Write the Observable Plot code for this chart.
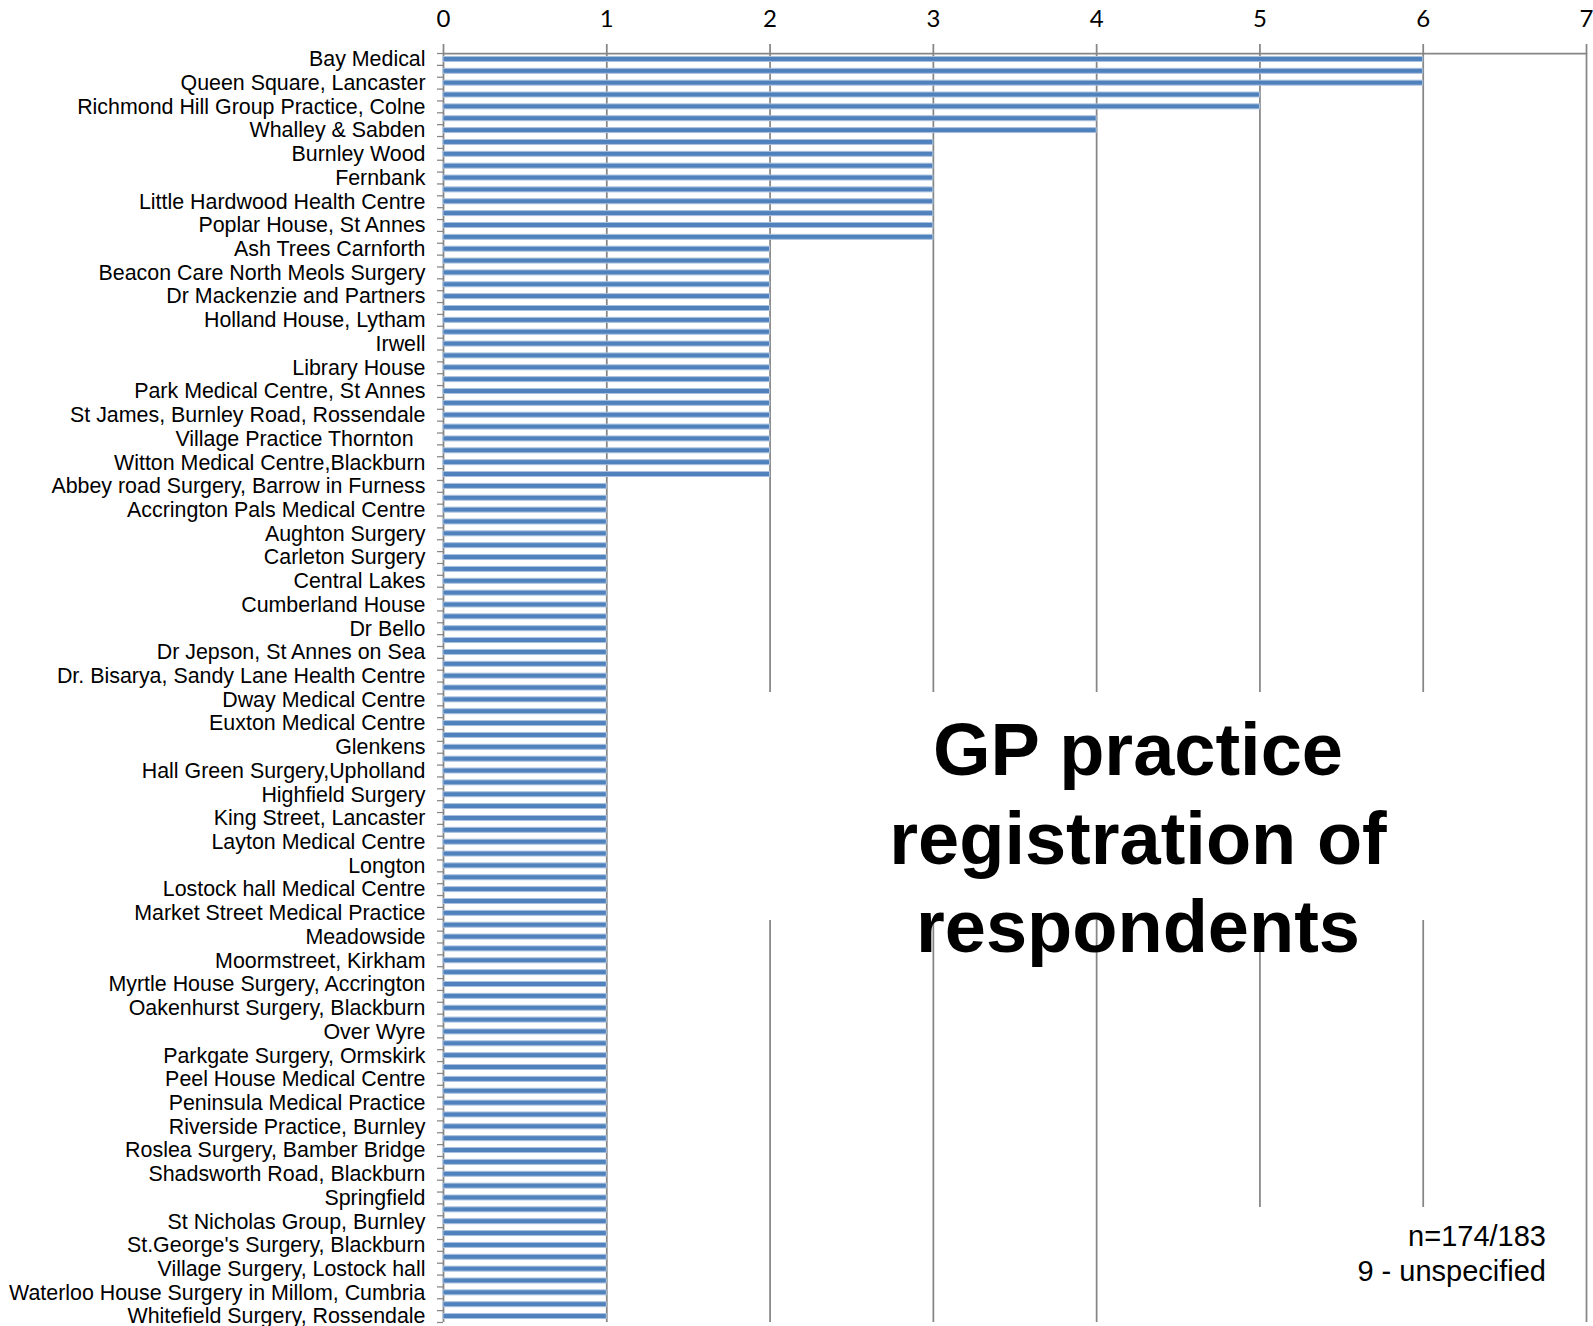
<!DOCTYPE html>
<html>
<head>
<meta charset="utf-8">
<script src="https://cdn.jsdelivr.net/npm/d3@7"></script>
<script src="https://cdn.jsdelivr.net/npm/@observablehq/plot@0.6"></script>
<style>
  html, body { margin: 0; padding: 0; background: #fff; }
  #wrap { position: relative; width: 1593px; height: 1326px; overflow: hidden; background: #fff; }
  #wrap svg { position: absolute; left: 0; top: 0; }
  .box { position: absolute; background: #fff; }
  .title { position: absolute; font-family: "Liberation Sans", Arial, sans-serif; font-weight: bold; font-size: 74px; line-height: 88.5px; text-align: center; color: #000; white-space: nowrap; }
  .note { position: absolute; font-family: "Liberation Sans", Arial, sans-serif; font-size: 29px; line-height: 35px; text-align: right; color: #000; white-space: nowrap; }
</style>
</head>
<body>
<div id="wrap"></div>
<script>
// Visible category labels (Excel shows every other category label)
const practices = [
  "Bay Medical",
  "Queen Square, Lancaster",
  "Richmond Hill Group Practice, Colne",
  "Whalley & Sabden",
  "Burnley Wood",
  "Fernbank",
  "Little Hardwood Health Centre",
  "Poplar House, St Annes",
  "Ash Trees Carnforth",
  "Beacon Care North Meols Surgery",
  "Dr Mackenzie and Partners",
  "Holland House, Lytham",
  "Irwell",
  "Library House",
  "Park Medical Centre, St Annes",
  "St James, Burnley Road, Rossendale",
  "Village Practice Thornton\u00a0\u00a0",
  "Witton Medical Centre,Blackburn",
  "Abbey road Surgery, Barrow in Furness",
  "Accrington Pals Medical Centre",
  "Aughton Surgery",
  "Carleton Surgery",
  "Central Lakes",
  "Cumberland House",
  "Dr Bello",
  "Dr Jepson, St Annes on Sea",
  "Dr. Bisarya, Sandy Lane Health Centre",
  "Dway Medical Centre",
  "Euxton Medical Centre",
  "Glenkens",
  "Hall Green Surgery,Upholland",
  "Highfield Surgery",
  "King Street, Lancaster",
  "Layton Medical Centre",
  "Longton",
  "Lostock hall Medical Centre",
  "Market Street Medical Practice",
  "Meadowside",
  "Moormstreet, Kirkham",
  "Myrtle House Surgery, Accrington",
  "Oakenhurst Surgery, Blackburn",
  "Over Wyre",
  "Parkgate Surgery, Ormskirk",
  "Peel House Medical Centre",
  "Peninsula Medical Practice",
  "Riverside Practice, Burnley",
  "Roslea Surgery, Bamber Bridge",
  "Shadsworth Road, Blackburn",
  "Springfield",
  "St Nicholas Group, Burnley",
  "St.George's Surgery, Blackburn",
  "Village Surgery, Lostock hall",
  "Waterloo House Surgery in Millom, Cumbria",
  "Whitefield Surgery, Rossendale"
];

// Respondents per practice (one value per category, 107 categories, top to bottom)
const counts = [
  6, 6, 6, 5, 5, 4, 4,
  3, 3, 3, 3, 3, 3, 3, 3, 3,
  2, 2, 2, 2, 2, 2, 2, 2, 2, 2,
  2, 2, 2, 2, 2, 2, 2, 2, 2, 2,
  1, 1, 1, 1, 1, 1, 1, 1, 1, 1,
  1, 1, 1, 1, 1, 1, 1, 1, 1, 1,
  1, 1, 1, 1, 1, 1, 1, 1, 1, 1,
  1, 1, 1, 1, 1, 1, 1, 1, 1, 1,
  1, 1, 1, 1, 1, 1, 1, 1, 1, 1,
  1, 1, 1, 1, 1, 1, 1, 1, 1, 1,
  1, 1, 1, 1, 1, 1, 1, 1, 1, 1,
  1
];

const xTicks = [0, 1, 2, 3, 4, 5, 6, 7];

const data = counts.map((v, k) => ({ i: k + 1, value: v }));
const labelIdx = practices.map((_, j) => 2 * j + 1);
const boundaries = [0.5, ...counts.map((_, k) => k + 1.5)];

const gridColor = "#868686";

const chart = Plot.plot({
  width: 1593,
  height: 1326,
  marginLeft: 443,
  marginRight: 7,
  marginTop: 53,
  marginBottom: 4,
  style: { background: "white", color: "#000", fontFamily: "'Liberation Sans', Arial, sans-serif", fontSize: "21px" },
  x: { domain: [0, 7] },
  y: { type: "linear", domain: [0.5, counts.length + 0.5], reverse: true },
  marks: [
    Plot.ruleX(xTicks, { stroke: gridColor, strokeWidth: 1.75 }),
    Plot.ruleY([0.5], { stroke: gridColor, strokeWidth: 1.75 }),
    Plot.rect(data, {
      x1: 0, x2: "value",
      y1: d => d.i - 0.21, y2: d => d.i + 0.21,
      fill: "#4f81bd", stroke: "#aac1de", strokeWidth: 1
    }),
    Plot.axisX(xTicks, {
      anchor: "top", tickSize: 10, tickPadding: 17, stroke: gridColor, strokeWidth: 1.75,
      fill: "#000", fontSize: 24, fontFamily: "Lato, 'Open Sans', sans-serif",
      tickFormat: d => String(d), label: null
    }),
    Plot.axisY(boundaries, {
      anchor: "left", tickSize: 6, stroke: gridColor, strokeWidth: 1.25,
      tickFormat: () => "", label: null
    }),
    Plot.axisY(labelIdx, {
      anchor: "left", tickSize: 0, tickPadding: 18, fill: "#000", fontSize: 21.4,
      tickFormat: i => practices[(i - 1) / 2], label: null
    })
  ]
});

const wrap = document.getElementById("wrap");
wrap.appendChild(chart);

function addDiv(cls, css, html) {
  const d = document.createElement("div");
  d.className = cls;
  Object.assign(d.style, css);
  if (html) d.innerHTML = html;
  wrap.appendChild(d);
}
addDiv("box", { left: "700px", top: "692px", width: "870px", height: "228px" });
addDiv("title", { left: "700px", width: "876px", top: "706px" }, "GP practice<br>registration of<br>respondents");
addDiv("box", { left: "1200px", top: "1207px", width: "375px", height: "119px" });
addDiv("note", { right: "47px", top: "1219px" }, "n=174/183<br>9 - unspecified");
</script>
</body>
</html>
